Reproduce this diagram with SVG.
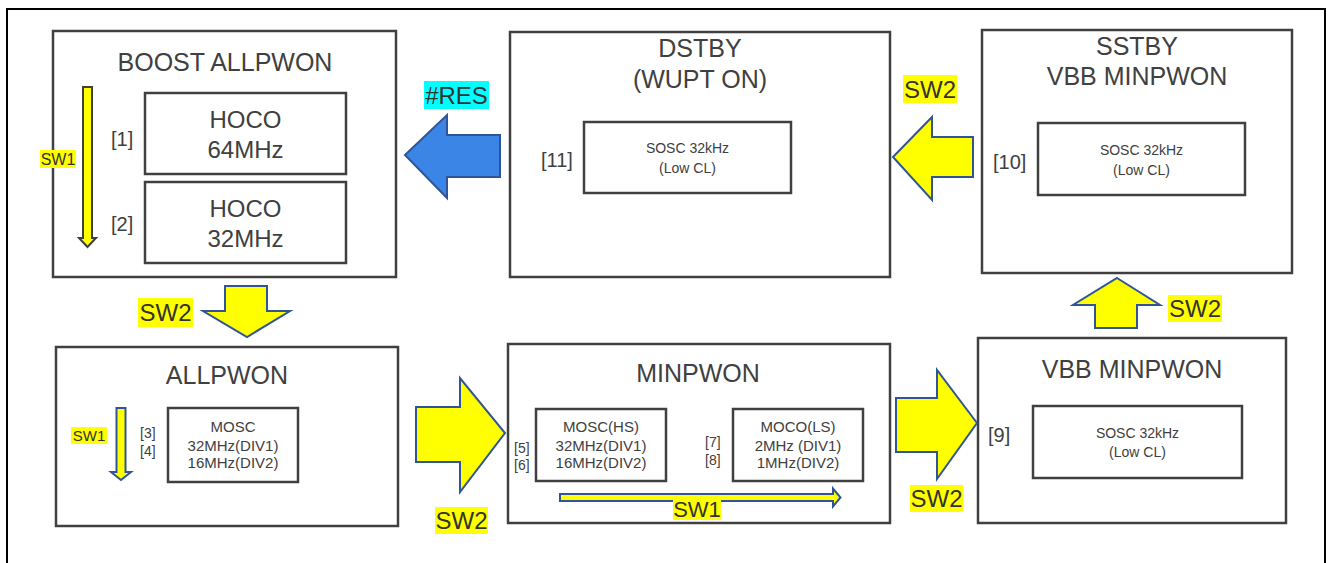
<svg xmlns="http://www.w3.org/2000/svg" width="1328" height="563" viewBox="0 0 1328 563">
<style>
.box{fill:#fff;stroke:#404040;stroke-width:2.5}
.ibox{fill:#fff;stroke:#404040;stroke-width:2.5}
.t{font-family:"Liberation Sans",Arial,sans-serif;fill:#404040;text-anchor:middle}
.title{font-size:25px}
.big{font-size:24px}
.sm{font-size:14px}
.md{font-size:15px}
.idx{font-family:"Liberation Sans",Arial,sans-serif;fill:#404040;font-size:20px}
.idxs{font-family:"Liberation Sans",Arial,sans-serif;fill:#404040;font-size:14px}
.ya{fill:#FFFF00;stroke:#2F5597;stroke-width:2;stroke-linejoin:miter}
.ba{fill:#3A85E5;stroke:#2F5597;stroke-width:2}
.hl{fill:#FFFF00}
.lbl{font-family:"Liberation Sans",Arial,sans-serif;fill:#333;text-anchor:middle}
</style>
<rect x="7" y="9" width="1318" height="570" fill="#fff" stroke="#000" stroke-width="2"/>

<g id="boost-allpwon">
<rect class="box" x="53" y="31" width="343" height="246"/>
<text class="t title" x="225" y="71">BOOST ALLPWON</text>
<rect class="ibox" x="145" y="93" width="201" height="81"/>
<text class="t big" x="245.5" y="128">HOCO</text>
<text class="t big" x="245.5" y="158">64MHz</text>
<rect class="ibox" x="145" y="182" width="201" height="81"/>
<text class="t big" x="245.5" y="217">HOCO</text>
<text class="t big" x="245.5" y="247">32MHz</text>
<text class="idx" x="111" y="146">[1]</text>
<text class="idx" x="111" y="231">[2]</text>
<path d="M83,87 H92 V238 H96 L87.5,247 L79,238 H83 Z" fill="#FFFF00" stroke="#404040" stroke-width="2"/>
<rect class="hl" x="40" y="150" width="36" height="18"/>
<text class="lbl" x="58" y="165" font-size="16">SW1</text>
</g>

<g id="dstby">
<rect class="box" x="510" y="32" width="380" height="245"/>
<text class="t title" x="700" y="57">DSTBY</text>
<text class="t title" x="700" y="88">(WUPT ON)</text>
<rect class="ibox" x="584" y="122" width="207" height="71"/>
<text class="t sm" x="687.5" y="153">SOSC 32kHz</text>
<text class="t sm" x="687.5" y="173">(Low CL)</text>
<text class="idx" x="541" y="167">[11]</text>
</g>

<g id="sstby">
<rect class="box" x="982" y="30" width="310" height="243"/>
<text class="t title" x="1137" y="55">SSTBY</text>
<text class="t title" x="1137" y="85">VBB MINPWON</text>
<rect class="ibox" x="1038" y="123" width="207" height="72"/>
<text class="t sm" x="1141.5" y="155">SOSC 32kHz</text>
<text class="t sm" x="1141.5" y="175">(Low CL)</text>
<text class="idx" x="993" y="169">[10]</text>
</g>

<g id="allpwon">
<rect class="box" x="56" y="347" width="342" height="179"/>
<text class="t title" x="227" y="384">ALLPWON</text>
<rect class="ibox" x="168" y="408" width="130" height="74"/>
<text class="t md" x="233" y="432">MOSC</text>
<text class="t md" x="233" y="451">32MHz(DIV1)</text>
<text class="t md" x="233" y="468">16MHz(DIV2)</text>
<text class="idxs" x="140" y="438">[3]</text>
<text class="idxs" x="140" y="456">[4]</text>
<path d="M116.5,408 H125.5 V472 H131 L121,480 L111,472 H116.5 Z" fill="#FFFF00" stroke="#2F5597" stroke-width="2"/>
<rect class="hl" x="71" y="427" width="36" height="17"/>
<text class="lbl" x="89" y="441" font-size="15">SW1</text>
</g>

<g id="minpwon">
<rect class="box" x="508" y="344" width="382" height="179"/>
<text class="t title" x="698" y="382">MINPWON</text>
<rect class="ibox" x="536" y="409" width="130" height="72"/>
<text class="t md" x="601" y="432">MOSC(HS)</text>
<text class="t md" x="601" y="451">32MHz(DIV1)</text>
<text class="t md" x="601" y="468">16MHz(DIV2)</text>
<rect class="ibox" x="733" y="409" width="130" height="72"/>
<text class="t md" x="798" y="432">MOCO(LS)</text>
<text class="t md" x="798" y="451">2MHz (DIV1)</text>
<text class="t md" x="798" y="468">1MHz(DIV2)</text>
<text class="idxs" x="514" y="453">[5]</text>
<text class="idxs" x="514" y="470">[6]</text>
<text class="idxs" x="705" y="447">[7]</text>
<text class="idxs" x="705" y="465">[8]</text>
<path d="M560,494 H833 V488.5 L840.5,497.5 L833,506.5 V501 H560 Z" fill="#FFFF00" stroke="#2F5597" stroke-width="2"/>
<rect class="hl" x="673" y="498" width="48" height="22"/>
<text class="lbl" x="697" y="517" font-size="22">SW1</text>
</g>

<g id="vbb-minpwon">
<rect class="box" x="978" y="338" width="308" height="185"/>
<text class="t title" x="1132" y="378">VBB MINPWON</text>
<rect class="ibox" x="1033" y="406" width="209" height="72"/>
<text class="t sm" x="1137.5" y="438">SOSC 32kHz</text>
<text class="t sm" x="1137.5" y="457">(Low CL)</text>
<text class="idx" x="988" y="442">[9]</text>
</g>

<g id="connectors">
<polygon class="ba" points="405,155 447,115 447,135 500,135 500,177 447,177 447,198"/>
<rect x="424" y="81" width="65" height="28" fill="#00FFFF"/>
<text class="lbl" x="456.5" y="104" font-size="24">#RES</text>

<polygon class="ya" points="893,157 932,117 932,137 973,137 973,177 932,177 932,200"/>
<rect class="hl" x="903" y="75" width="54" height="28"/>
<text class="lbl" x="930" y="98" font-size="24">SW2</text>

<polygon class="ya" points="1117,278 1160,305 1137,305 1137,328 1095,328 1095,305 1073,305"/>
<rect class="hl" x="1168" y="295" width="54" height="27"/>
<text class="lbl" x="1195" y="317" font-size="24">SW2</text>

<polygon class="ya" points="225,286 267,286 267,311 290,311 247,337 203,311 225,311"/>
<rect class="hl" x="138" y="298" width="55" height="29"/>
<text class="lbl" x="165.5" y="321" font-size="24">SW2</text>

<polygon class="ya" points="416,407 460,407 460,378 505,433 460,492 460,462 416,462"/>
<rect class="hl" x="435" y="507" width="53" height="27"/>
<text class="lbl" x="461.5" y="529" font-size="24">SW2</text>

<polygon class="ya" points="977,423 937,370 937,398 896,398 896,452 937,452 937,479"/>
<rect class="hl" x="910" y="485" width="53" height="27"/>
<text class="lbl" x="936.5" y="507" font-size="24">SW2</text>
</g>
</svg>
